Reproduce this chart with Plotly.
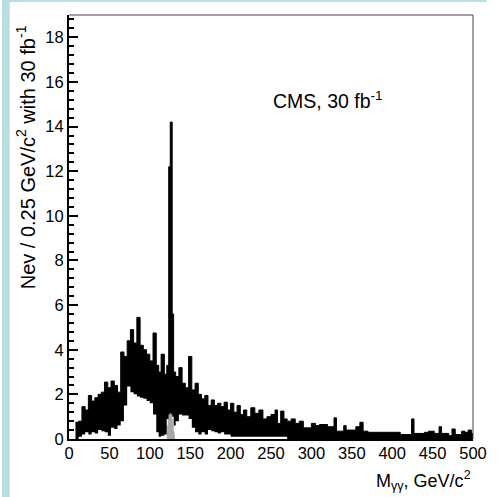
import plotly.graph_objects as go

# ---------------- data ----------------
# bin edges in M_gg (GeV/c^2) for the envelope of the dense 0.25-GeV histogram
edges = [8, 12, 16, 20, 24, 28, 32, 36, 40, 44, 48, 52, 56, 60, 64, 68, 72, 76, 80, 84,
         88, 92, 96, 100, 104, 108, 111, 114, 118, 121, 123.4, 125.3, 127.7, 129.5, 132,
         136, 140, 144, 148, 152, 156, 160, 164, 168, 172, 176, 180, 184, 188, 192, 196,
         200, 204, 208, 212, 216, 220, 225, 230, 235, 240, 245, 250, 255, 258, 262, 266,
         270, 275, 280, 285, 290, 300, 305, 310, 320, 328, 331, 340, 343, 355, 360, 364,
         370, 380, 390, 400, 410, 424, 427, 440, 445, 452, 458, 461, 470, 474, 478, 486,
         490, 494, 498, 500]

# upper envelope of Nev per 0.25 GeV bin
upper = [0.75, 0.8, 1.45, 1.3, 1.95, 1.7, 1.85, 2.0, 2.1, 2.55,
         2.3, 2.6, 2.4, 2.1, 3.9, 3.7, 4.4, 4.9, 4.3, 5.45,
         4.2, 4.0, 3.8, 3.5, 4.75, 3.3, 3.0, 3.8, 2.9, 3.3,
         12.2, 14.2, 5.6, 3.0, 2.8, 3.2, 2.5, 2.3, 3.7, 2.2,
         2.5, 2.0, 1.8, 1.95, 1.5, 1.75, 1.5, 1.6, 1.45, 1.65,
         1.3, 1.6, 1.2, 1.5, 1.1, 1.3, 1.0, 1.4, 1.15, 1.3,
         0.9, 1.0, 1.1, 1.3, 0.7, 1.25, 0.9, 0.8, 0.9, 0.7,
         0.8, 0.5, 0.7, 0.6, 0.65, 0.55, 0.95, 0.35, 0.6, 0.4,
         0.55, 0.75, 0.35, 0.3, 0.3, 0.3, 0.3, 0.2, 0.9, 0.25,
         0.3, 0.35, 0.25, 0.55, 0.25, 0.15, 0.45, 0.2, 0.35, 0.3,
         0.4, 0.25]

# lower envelope of Nev per 0.25 GeV bin
lower = [0.0, 0.1, 0.2, 0.3, 0.2, 0.3, 0.25, 0.4, 0.35, 0.3,
         0.15, 0.5, 0.45, 0.6, 0.8, 1.5, 2.35, 2.1, 2.0, 1.9,
         1.85, 1.8, 1.7, 1.6, 1.1, 0.3, 0.1, 0.15, 0.2, 0.9,
         1.1, 1.1, 1.0, 0.6, 0.8, 1.1, 1.05, 1.05, 0.9, 0.5,
         0.3, 0.2, 0.3, 0.2, 0.4, 0.35, 0.3, 0.25, 0.3, 0.2,
         0.2, 0.1, 0.1, 0.1, 0.1, 0.1, 0.1, 0.1, 0.1, 0.1,
         0.1, 0.1, 0.1, 0.1, 0.1, 0.1, 0.1, 0.0, 0.0, 0.0,
         0.0, 0.0, 0.0, 0.0, 0.0, 0.0, 0.0, 0.0, 0.0, 0.0,
         0.0, 0.0, 0.0, 0.0, 0.0, 0.0, 0.0, 0.0, 0.0, 0.0,
         0.0, 0.0, 0.0, 0.0, 0.0, 0.0, 0.0, 0.0, 0.0, 0.0,
         0.0, 0.0]

# grey signal histogram near 125 GeV
signal_edges = [121, 122, 123, 124, 125, 126, 127, 128, 129, 130, 131]
signal_values = [0.3, 0.6, 0.9, 1.1, 1.15, 1.1, 0.9, 0.6, 0.35, 0.15]

x_ticks = [0, 50, 100, 150, 200, 250, 300, 350, 400, 450, 500]
y_ticks = [0, 2, 4, 6, 8, 10, 12, 14, 16, 18]

# ---------------- figure ----------------
FONT = "Liberation Sans, Arial, Helvetica, sans-serif"
W, H = 499, 497
L, R, T, B = 69, 14, 15, 58
pw, ph = W - L - R, H - T - B

fig = go.Figure()

fig.add_trace(go.Scatter(x=edges, y=lower + [lower[-1]], mode="lines",
                         line=dict(width=0, color="black", shape="hv"),
                         hoverinfo="skip", showlegend=False))
fig.add_trace(go.Scatter(x=edges, y=upper + [upper[-1]], mode="lines",
                         line=dict(width=1, color="black", shape="hv"),
                         fill="tonexty", fillcolor="black",
                         showlegend=False))
fig.add_trace(go.Scatter(x=signal_edges, y=signal_values + [signal_values[-1]],
                         mode="lines", line=dict(width=0.5, color="#8a8a8a", shape="hv"),
                         fill="tozeroy", fillcolor="#a8a8a8", showlegend=False))

def px_x(p):
    return (p - L) / pw

def px_y(p):
    return (H - B - p) / ph

shapes = [
    # light blue border strips
    dict(type="rect", xref="paper", yref="paper", x0=px_x(0), x1=px_x(8),
         y0=px_y(H), y1=px_y(0), fillcolor="#b9dfe3", line_width=0, layer="below"),
    dict(type="rect", xref="paper", yref="paper", x0=px_x(0), x1=px_x(W),
         y0=px_y(2), y1=px_y(0), fillcolor="#b9dfe3", line_width=0, layer="below"),
    # frame top and right
    dict(type="line", xref="paper", yref="paper", x0=0, x1=1, y0=1, y1=1,
         line=dict(color="#444444", width=1)),
    dict(type="line", xref="paper", yref="paper", x0=1, x1=1, y0=0, y1=1,
         line=dict(color="#444444", width=1)),
]

annotations = [
    dict(text="Nev / 0.25 GeV/c<sup>2</sup> with 30 fb<sup>-1</sup>", textangle=-90,
         xref="paper", yref="paper", x=px_x(24), y=px_y(23), xanchor="center",
         yanchor="top", showarrow=False, font=dict(family=FONT, size=20, color="black")),
    dict(text="M<sub>γγ</sub>, GeV/c<sup>2</sup>", xref="paper", yref="paper",
         x=1, y=px_y(480), xanchor="right", yanchor="middle", showarrow=False,
         font=dict(family=FONT, size=18, color="black")),
    dict(text="CMS, 30 fb<sup>-1</sup>", xref="x", yref="y", x=250, y=15.2,
         xanchor="left", yanchor="middle", showarrow=False,
         font=dict(family=FONT, size=19.5, color="black")),
]

fig.update_layout(
    width=W, height=H, autosize=False,
    margin=dict(l=L, r=R, t=T, b=B, pad=0),
    paper_bgcolor="white", plot_bgcolor="white",
    font=dict(family=FONT, size=16, color="black"),
    shapes=shapes, annotations=annotations, showlegend=False,
    xaxis=dict(range=[0, 500], tickvals=x_ticks, ticks="", showgrid=False,
               zeroline=False, showline=True, linecolor="black", linewidth=2,
               ticklabelstandoff=-2,
               tickfont=dict(family=FONT, size=16.5, color="black")),
    yaxis=dict(range=[0, 19], tickvals=y_ticks, ticks="inside", ticklen=9,
               tickwidth=2, tickcolor="black", showgrid=False, zeroline=False,
               showline=True, linecolor="black", linewidth=2,
               tickfont=dict(family=FONT, size=16.5, color="black"),
               minor=dict(dtick=0.4, tick0=0, ticks="inside", ticklen=5,
                          tickwidth=2, tickcolor="black", showgrid=False)),
)

fig.write_html("out.html", config={"displayModeBar": False},
               post_script="document.body.style.margin='0px';document.body.style.padding='0px';")
